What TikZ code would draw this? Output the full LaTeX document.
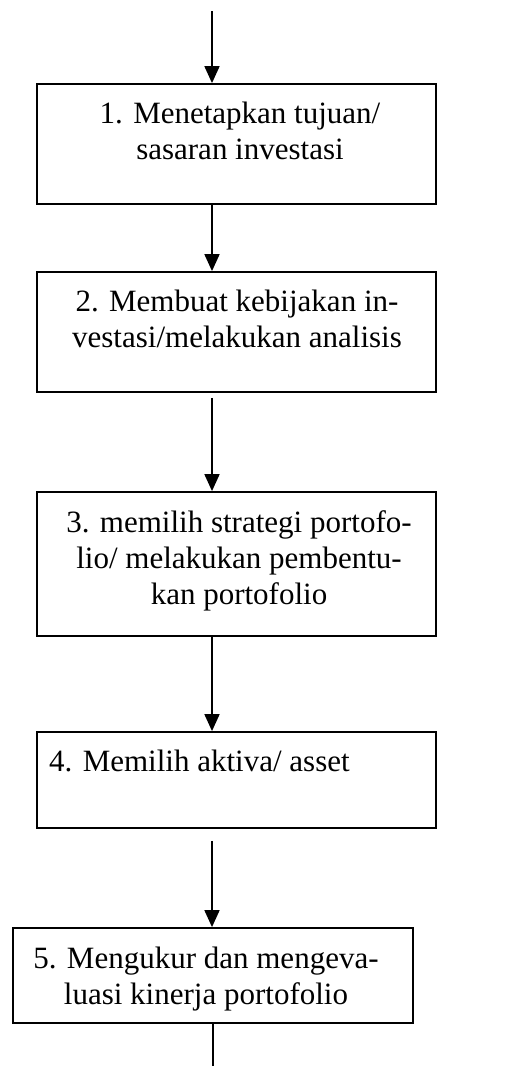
\documentclass[tikz,border=0pt]{standalone}
\usepackage{fontspec}
\setmainfont{Liberation Serif}
\usetikzlibrary{arrows.meta}
\begin{document}
\begin{tikzpicture}[x=1pt,y=-1pt,
  box/.style={draw, line width=1.8pt, inner sep=0pt, rectangle},
  txt/.style={font=\fontsize{31}{36}\selectfont, align=center, inner sep=0pt, anchor=north},
  arr/.style={line width=1.8pt, -{Triangle[length=17pt,width=15pt]}},
  plain/.style={line width=1.8pt}]
\useasboundingbox (0,0) rectangle (523,1066);
\node[box, minimum width=399pt, minimum height=120pt] (b1) at (236.5,144) {};
\node[box, minimum width=399pt, minimum height=120pt] (b2) at (236.5,332) {};
\node[box, minimum width=399pt, minimum height=144pt] (b3) at (236.5,564) {};
\node[box, minimum width=399pt, minimum height=96pt] (b4) at (236.5,780) {};
\node[box, minimum width=400pt, minimum height=95pt] (b5) at (213,975.5) {};
\node[txt] (t1) at (240,102) {1. Menetapkan tujuan/\\sasaran investasi};
\node[txt] (t2) at (237,290) {2. Membuat kebijakan in-\\vestasi/melakukan analisis};
\node[txt] (t3) at (239,510) {3. memilih strategi portofo-\\lio/ melakukan pembentu-\\kan portofolio};
\node[txt, anchor=north west] (t4) at (49,750) {4. Memilih aktiva/ asset};
\node[txt] (t5) at (206,947) {5. Mengukur dan mengeva-\\luasi kinerja portofolio};
\coordinate (top) at (212,11);
\coordinate (bot) at (213,1066);
\draw[arr] (top) -- (top |- b1.north);
\draw[arr] (b1.south -| top) -- (b2.north -| top);
\draw[arr, shorten <=5pt] (b2.south -| top) -- (b3.north -| top);
\draw[arr] (b3.south -| top) -- (b4.north -| top);
\draw[arr, shorten <=12pt] (b4.south -| top) -- (b5.north -| top);
\draw[plain] (b5.south -| bot) -- (bot);
\end{tikzpicture}
\end{document}
